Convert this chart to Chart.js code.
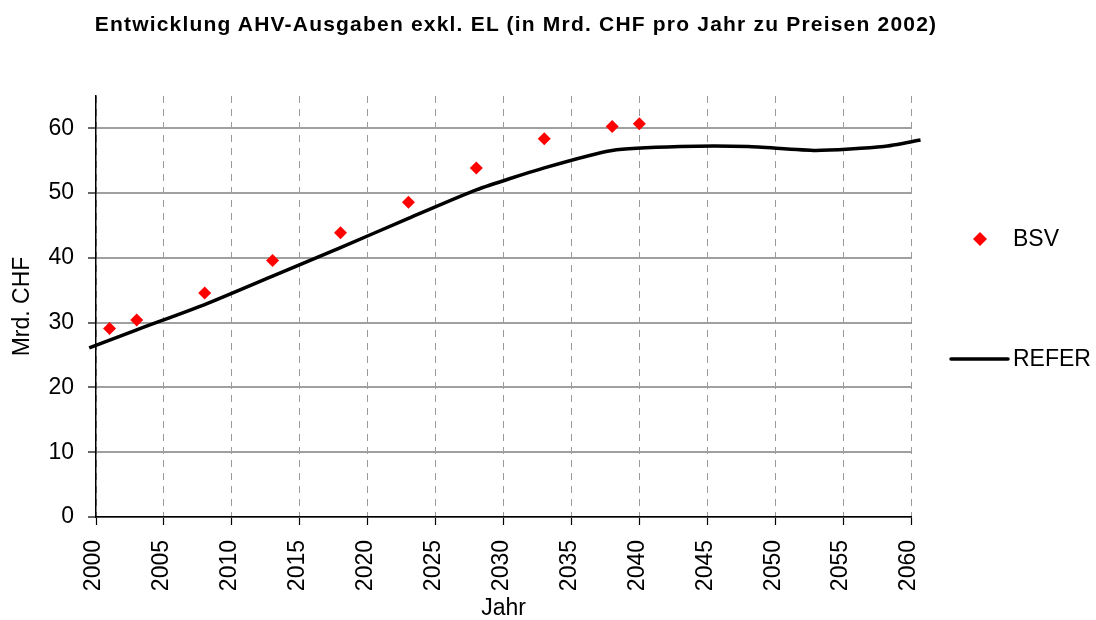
<!DOCTYPE html>
<html>
<head>
<meta charset="utf-8">
<title>Entwicklung AHV-Ausgaben</title>
<script src="https://cdn.jsdelivr.net/npm/chart.js@4/dist/chart.umd.min.js"></script>
<style>
  html, body { margin: 0; padding: 0; background: #fff; }
  #wrap { position: relative; width: 1096px; height: 620px; }
  #chartTitle {
    position: absolute; left: 0; top: 13px; width: 1032px;
    text-align: center; white-space: nowrap;
    font: bold 21px/21px "Liberation Sans", Arial, sans-serif;
    letter-spacing: 1.2px; color: #000;
  }
</style>
</head>
<body>
<div id="wrap">
  <canvas id="ahvChart" width="1096" height="620"></canvas>
  <div id="chartTitle">Entwicklung AHV-Ausgaben exkl. EL (in Mrd. CHF pro Jahr zu Preisen 2002)</div>
</div>
<script>
// BSV-Schätzung (einzelne Punkte)
const bsvYears = [2001, 2003, 2008, 2013, 2018, 2023, 2028, 2033, 2038, 2040];
const bsvValues = [29.1, 30.4, 34.6, 39.6, 43.9, 48.6, 53.9, 58.4, 60.3, 60.7];

// Referenzszenario REFER (Linie)
const referYears = [1999.5, 2003, 2008, 2013, 2018, 2023, 2028, 2033, 2038, 2043, 2048, 2053, 2058, 2060.7];
const referValues = [26.1, 28.9, 32.8, 37.2, 41.6, 46.1, 50.5, 53.9, 56.6, 57.2, 57.2, 56.6, 57.2, 58.2];

// Achsenbeschriftungen
const xTicks = [2000, 2005, 2010, 2015, 2020, 2025, 2030, 2035, 2040, 2045, 2050, 2055, 2060];
const yTicks = [0, 10, 20, 30, 40, 50, 60];

const FONT = '"Liberation Sans", Arial, sans-serif';
Chart.defaults.font.family = FONT;
Chart.defaults.color = '#000';

function toPoints(xs, ys){
    return xs.map(function (x, i){ return {x: x, y: ys[i]}; });
}

// Legende rechts neben dem Diagramm, Symbol + Text pro Datenreihe
const sideLegend = {
    id: 'sideLegend',
    afterDraw(chart){
        const ctx = chart.ctx;
        const right = chart.chartArea.right;
        const top = chart.chartArea.top;
        const rows = [143, 263];
        ctx.save();
        ctx.font = '23px ' + FONT;
        ctx.textBaseline = 'middle';
        chart.data.datasets.forEach(function (ds, i){
            const y = top + rows[i];
            if(ds.showLine === false){
                const cx = right + 69, r = 7;
                ctx.fillStyle = ds.pointBackgroundColor;
                ctx.beginPath();
                ctx.moveTo(cx - r, y);
                ctx.lineTo(cx, y - r);
                ctx.lineTo(cx + r, y);
                ctx.lineTo(cx, y + r);
                ctx.closePath();
                ctx.fill();
            }else {
                ctx.strokeStyle = ds.borderColor;
                ctx.lineWidth = ds.borderWidth;
                ctx.lineCap = 'round';
                ctx.beginPath();
                ctx.moveTo(right + 40, y);
                ctx.lineTo(right + 97, y);
                ctx.stroke();
            }
            ctx.fillStyle = '#000';
            ctx.fillText(ds.label, right + 102, y + 1);
        });
        ctx.restore();
    }
};

const ahvChart = new Chart(document.getElementById('ahvChart'), {
    type: 'line',
    data: {
        datasets: [{
            label: 'BSV',
            data: toPoints(bsvYears, bsvValues),
            showLine: false,
            pointStyle: 'rectRot',
            pointRadius: 6.5,
            pointBorderWidth: 0,
            pointBackgroundColor: '#ff0000',
            pointBorderColor: '#ff0000',
            order: 0
        }, {
            label: 'REFER',
            data: toPoints(referYears, referValues),
            borderColor: '#000000',
            borderWidth: 3.5,
            pointRadius: 0,
            tension: 0.2,
            clip: false,
            order: 1
        }]
    },
    options: {
        responsive: false,
        animation: false,
        events: [],
        layout: {padding: {left: 0, right: 0, top: 96, bottom: 0}},
        plugins: {
            legend: {display: false},
            tooltip: {enabled: false}
        },
        scales: {
            x: {
                type: 'linear',
                min: 2000,
                max: 2060,
                afterBuildTicks: function (s){ s.ticks = xTicks.map(function (v){ return {value: v}; }); },
                afterFit: function (s){ s.height = 103; },
                ticks: {
                    font: {size: 23},
                    maxRotation: 90,
                    minRotation: 90,
                    padding: 15,
                    labelOffset: -2,
                    autoSkip: false,
                    callback: function (v){ return String(v); }
                },
                grid: {
                    color: '#9a9a9a',
                    lineWidth: 1,
                    tickLength: 8,
                    tickColor: '#000',
                    tickWidth: 1.2
                },
                border: {color: '#000', width: 1.5, dash: [7, 6]},
                title: {
                    display: true,
                    text: 'Jahr',
                    font: {size: 23, lineHeight: 1},
                    padding: {top: 0, bottom: 0}
                }
            },
            y: {
                min: 0,
                max: 65,
                afterBuildTicks: function (s){ s.ticks = yTicks.map(function (v){ return {value: v}; }); },
                afterFit: function (s){ s.width = 96; },
                ticks: {font: {size: 23}, padding: 14},
                grid: {
                    color: '#a0a0a0',
                    lineWidth: 2,
                    tickLength: 8,
                    tickColor: '#000',
                    tickWidth: 1.2
                },
                border: {color: '#000', width: 1.5},
                title: {
                    display: true,
                    text: 'Mrd. CHF',
                    font: {size: 23, lineHeight: 1},
                    padding: {top: 11, bottom: 0}
                }
            },
            // Platzhalter rechts für die Legende
            yRight: {
                axis: 'y',
                position: 'right',
                display: true,
                grid: {display: false},
                border: {display: false},
                ticks: {display: false},
                afterFit: function (s){ s.width = 185; }
            }
        }
    },
    plugins: [sideLegend]
});
</script>
</body>
</html>
